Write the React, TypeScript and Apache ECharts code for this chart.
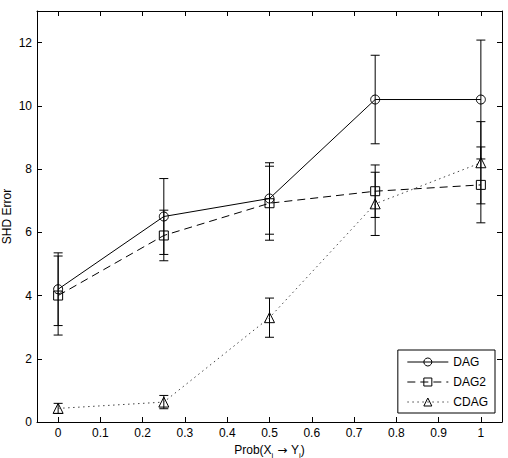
import React, { useEffect, useRef } from "react";
import * as echarts from "echarts";

// Edge probability values on the x axis
const probs = [0, 0.25, 0.5, 0.75, 1];

// Mean SHD error and standard deviation per method
const dagMean = [4.2, 6.5, 7.07, 10.2, 10.2];
const dagStd = [1.15, 1.2, 1.13, 1.4, 1.88];
const dag2Mean = [4.0, 5.9, 6.92, 7.3, 7.5];
const dag2Std = [1.25, 0.8, 1.17, 0.83, 1.2];
const cdagMean = [0.43, 0.63, 3.3, 6.9, 8.2];
const cdagStd = [0.16, 0.21, 0.62, 1.0, 1.3];

const xTickLabels = ["0", "0.1", "0.2", "0.3", "0.4", "0.5", "0.6", "0.7", "0.8", "0.9", "1"];
const yTitle = "SHD Error";

const FONT = "'Liberation Sans', Arial, Helvetica, sans-serif";

function pairs(ys: number[]) {
  return probs.map((x, i) => [x, ys[i]]);
}

function bars(ys: number[], sd: number[]) {
  return probs.map((x, i) => [x, ys[i] - sd[i], ys[i] + sd[i]]);
}

function errorSeries(ys: number[], sd: number[]) {
  return {
    type: "custom",
    data: bars(ys, sd),
    encode: { x: 0, y: [1, 2] },
    z: 1,
    silent: true,
    renderItem: (params: any, api: any) => {
      const x = api.value(0);
      const top = api.coord([x, api.value(2)]);
      const bot = api.coord([x, api.value(1)]);
      const w = 4.5;
      const style = { stroke: "#000", lineWidth: 1, fill: "none" };
      return {
        type: "group",
        children: [
          { type: "line", shape: { x1: top[0], y1: top[1], x2: bot[0], y2: bot[1] }, style },
          { type: "line", shape: { x1: top[0] - w, y1: top[1], x2: top[0] + w, y2: top[1] }, style },
          { type: "line", shape: { x1: bot[0] - w, y1: bot[1], x2: bot[0] + w, y2: bot[1] }, style },
        ],
      };
    },
  };
}

export default function App() {
  const ref = useRef<HTMLDivElement>(null);

  useEffect(() => {
    if (!ref.current) return;
    const chart = echarts.init(ref.current, undefined, { renderer: "svg" });

    const axisCommon = {
      axisLine: { show: true, onZero: false, lineStyle: { color: "#000", width: 1 } },
      axisTick: { show: true, inside: true, length: 5, lineStyle: { color: "#000", width: 1 } },
      splitLine: { show: false },
    };

    const xBase = {
      type: "value",
      min: -0.05,
      max: 1.05,
      splitNumber: 11,
      ...axisCommon,
    };
    const yBase = {
      type: "value",
      min: 0,
      max: 13,
      interval: 2,
      ...axisCommon,
    };

    const lineSeries = (name: string, data: number[], symbol: string, lineType: any, color: string) => ({
      name,
      type: "line",
      data: pairs(data),
      symbol,
      symbolSize: symbol === "triangle" ? 10 : 9,
      showSymbol: true,
      z: 3,
      lineStyle: { color, width: 1, type: lineType },
      itemStyle: { color: "rgba(255,255,255,0)", borderColor: "#000", borderWidth: 1 },
      emphasis: { disabled: true },
    });

    chart.setOption({
      animation: false,
      backgroundColor: "#fff",
      textStyle: { fontFamily: FONT },
      grid: { left: 37, top: 11, right: 6, bottom: 36, containLabel: false, outerBoundsMode: "none" },
      // vertical y-axis title, placed beside the tick labels
      graphic: [
        {
          type: "text",
          x: 7,
          y: 216.5,
          rotation: Math.PI / 2,
          style: {
            text: yTitle,
            fontSize: 12,
            fontFamily: FONT,
            fill: "#000",
            align: "center",
            verticalAlign: "middle",
          },
        },
      ],
      legend: {
        orient: "vertical",
        right: 13,
        bottom: 45,
        data: ["DAG", "DAG2", "CDAG"],
        itemWidth: 41,
        itemHeight: 10,
        itemGap: 8,
        padding: [6, 7, 5, 9],
        borderColor: "#000",
        borderWidth: 1,
        backgroundColor: "#fff",
        lineStyle: { width: 1 },
        itemStyle: { borderWidth: 1 },
        textStyle: { fontFamily: FONT, fontSize: 12, color: "#000" },
        selectedMode: false,
      },
      xAxis: [
        {
          ...xBase,
          position: "bottom",
          axisLabel: {
            show: true,
            margin: 5,
            color: "#000",
            fontSize: 12,
            fontFamily: FONT,
            showMinLabel: false,
            showMaxLabel: false,
            formatter: (v: number) => {
              const s = String(Math.round(v * 10) / 10);
              return xTickLabels.includes(s) && Math.abs(v * 10 - Math.round(v * 10)) < 1e-6 ? s : "";
            },
          },
          name: "{n|Prob(X}{s|i}{a| \u2192 }{n|Y}{s|j}{n|)}",
          nameLocation: "middle",
          nameGap: 22,
          nameMoveOverlap: false,
          nameTextStyle: {
            color: "#000",
            fontFamily: FONT,
            rich: {
              n: { fontSize: 12, fontFamily: FONT, color: "#000", verticalAlign: "top", lineHeight: 14 },
              a: { fontSize: 12, fontFamily: "'DejaVu Sans', sans-serif", color: "#000", verticalAlign: "top", lineHeight: 14 },
              s: { fontSize: 8, fontFamily: FONT, color: "#000", verticalAlign: "top", padding: [7, 0, 0, 0], lineHeight: 14 },
            },
          },
        },
        { ...xBase, position: "top", axisLabel: { show: false } },
      ],
      yAxis: [
        {
          ...yBase,
          position: "left",
          axisLabel: {
            show: true,
            margin: 5,
            color: "#000",
            fontSize: 12,
            fontFamily: FONT,
            showMaxLabel: false,
          },
        },
        { ...yBase, position: "right", axisLabel: { show: false } },
      ],
      series: [
        errorSeries(dagMean, dagStd),
        errorSeries(dag2Mean, dag2Std),
        errorSeries(cdagMean, cdagStd),
        lineSeries("DAG", dagMean, "circle", "solid", "#000"),
        lineSeries("DAG2", dag2Mean, "rect", [8, 5], "#000"),
        lineSeries("CDAG", cdagMean, "triangle", [1.5, 3.5], "#444"),
      ],
    });

    return () => chart.dispose();
  }, []);

  return (
    <div
      ref={ref}
      style={{ position: "fixed", left: 0, top: 0, width: 508, height: 458, background: "#fff" }}
    />
  );
}
